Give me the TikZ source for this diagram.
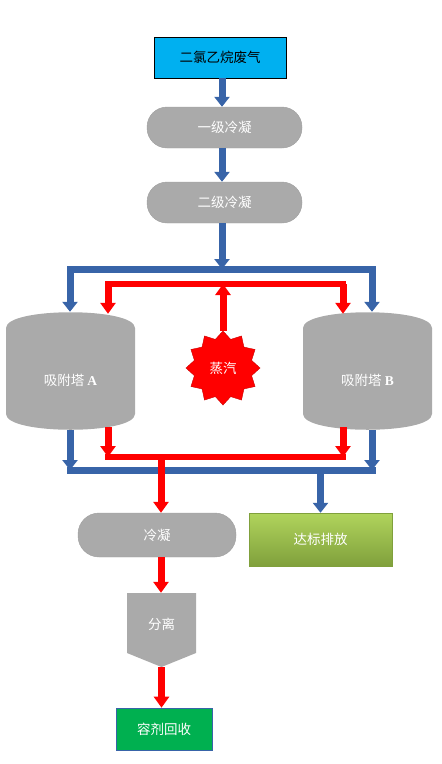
\documentclass[tikz,border=0pt]{standalone}
\usepackage{fontspec}
\setmainfont{Liberation Serif}
\newfontfamily\cjk{Noto Sans CJK SC}
\usetikzlibrary{arrows.meta,shapes.geometric}

\definecolor{pipeblue}{RGB}{56,100,168}
\definecolor{procgray}{RGB}{170,170,170}
\definecolor{gascyan}{RGB}{0,176,240}
\definecolor{recgreen}{RGB}{0,176,80}
\definecolor{olivetop}{RGB}{176,212,92}
\definecolor{olivebot}{RGB}{128,160,60}

\begin{document}
\begin{tikzpicture}[x=1pt, y=-1pt]
			% Define styles
			\tikzstyle{base} = [font=\cjk\fontsize{13.5}{16}\selectfont, text=white, inner sep=0pt, text centered]
			\tikzstyle{pill} = [base, rectangle, rounded corners=20pt, minimum width=155pt, minimum height=41pt, fill=procgray, draw=gray!75]
			\tikzstyle{tower} = [base, rectangle, minimum width=129pt, minimum height=118pt, text height=30pt,
				path picture={\fill[procgray] ([yshift=-16pt]path picture bounding box.north west)
					.. controls ([yshift=5pt]path picture bounding box.north west) and ([yshift=5pt]path picture bounding box.north east) .. ([yshift=-16pt]path picture bounding box.north east)
					-- ([yshift=16pt]path picture bounding box.south east)
					.. controls ([yshift=-5pt]path picture bounding box.south east) and ([yshift=-5pt]path picture bounding box.south west) .. ([yshift=16pt]path picture bounding box.south west) -- cycle;}]
			\tikzstyle{pentagon} = [base, rectangle, minimum width=69pt, minimum height=74pt, text depth=12pt,
				path picture={\fill[procgray] (path picture bounding box.north west) -- (path picture bounding box.north east)
					-- ([yshift=14pt]path picture bounding box.south east) -- (path picture bounding box.south)
					-- ([yshift=14pt]path picture bounding box.south west) -- cycle;}]
			\tikzstyle{bluearrow} = [line width=7pt, pipeblue, -{Triangle[width=15pt,length=10pt]}]
			\tikzstyle{bluebar} = [line width=7pt, pipeblue, line cap=rect]
			\tikzstyle{redarrow} = [line width=7pt, red, -{Triangle[width=15pt,length=11pt]}]
			\tikzstyle{redbar} = [line width=6pt, red, line cap=rect]

			\useasboundingbox (0,0) rectangle (442,764);

			% Nodes
			\node (gas) [base, rectangle, minimum width=132pt, minimum height=41pt, fill=gascyan, draw=black, line width=0.8pt, text=black] at (220,57.5) {二氯乙烷废气};
			\node (cond1) [pill] at (224.5,127.5) {一级冷凝};
			\node (cond2) [pill] at (224.5,202.5) {二级冷凝};
			\node (towerA) [tower] at (70.5,371) {吸附塔 {\rmfamily\bfseries A}};
			\node (towerB) [tower] at (367.5,371) {吸附塔 {\rmfamily\bfseries B}};
			\node (steam) [base, star, star points=12, star point ratio=1.25, minimum size=74pt, fill=red, draw=red!80!black] at (223,368) {蒸汽};
			\node (cond3) [pill, minimum width=158pt, minimum height=44pt, rounded corners=21pt] at (157,535) {冷凝};
			\node (discharge) [base, rectangle, minimum width=143pt, minimum height=53pt, top color=olivetop, bottom color=olivebot, draw=olivebot] at (320.5,539.5) {达标排放};
			\node (sep) [pentagon] at (161.5,630) {分离};
			\node (recover) [base, rectangle, minimum width=96pt, minimum height=42pt, fill=recgreen, draw=pipeblue, line width=0.6pt] at (164,729) {容剂回收};

			% Junctions
			\coordinate (split) at (222,269);
			\coordinate (inA) at (70,269);
			\coordinate (inB) at (372,269);
			\coordinate (steamA) at (108,284);
			\coordinate (steamB) at (343,284);
			\coordinate (backA) at (108,457);
			\coordinate (backB) at (343,457);
			\coordinate (outA) at (70,470);
			\coordinate (outB) at (372,470);

			% Arrows
			\draw [bluearrow] (gas.south -| 222,0) -- (cond1.north -| 222,0);
			\draw [bluearrow] (cond1.south -| 222,0) -- (cond2.north -| 222,0);
			\draw [bluebar] (inA) -- (inB);
			\draw [bluearrow] (cond2.south -| split) -- (split);
			\draw [bluearrow] (inA) -- (inA |- towerA.north);
			\draw [bluearrow] (inB) -- (inB |- towerB.north);
			\draw [redbar] (steamA) -- (steamB);
			\draw [redarrow] (steam.north) -- (steam.north |- steamA);
			\draw [redarrow] (steamA) -- ([yshift=-2pt]steamA |- towerA.north);
			\draw [redarrow] (steamB) -- ([yshift=-2pt]steamB |- towerB.north);
			\draw [bluebar] (outA) -- (outB);
			\draw [bluearrow] (towerA.south -| outA) -- (outA);
			\draw [bluearrow] (towerB.south -| outB) -- (outB);
			\draw [redbar] (backA) -- (backB);
			\draw [redarrow] ([yshift=3pt]towerA.south -| backA) -- (backA);
			\draw [redarrow] ([yshift=3pt]towerB.south -| backB) -- (backB);
			\draw [bluearrow] (outB -| discharge.north) -- (discharge.north);
			\draw [redarrow] (backA -| 161,0) -- (cond3.north -| 161,0);
			\draw [redarrow] (cond3.south -| 161,0) -- (sep.north -| 161,0);
			\draw [redarrow] (sep.south) -- (sep.south |- recover.north);
		\end{tikzpicture}
\end{document}
